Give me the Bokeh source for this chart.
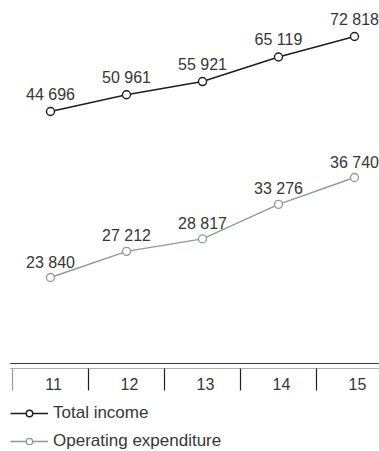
from bokeh.plotting import figure
from bokeh.models import Range1d, Legend, LegendItem
from bokeh.core.properties import value
from bokeh.embed import file_html
from bokeh.resources import INLINE

# Data
years = [11, 12, 13, 14, 15]
year_labels = ["11", "12", "13", "14", "15"]
total_income = [44696, 50961, 55921, 65119, 72818]
operating_expenditure = [23840, 27212, 28817, 33276, 36740]


def fmt(v):
    return f"{v:,}".replace(",", " ")


INCOME_COLOR = "#1e1e1e"
OPEX_COLOR = "#8a9d93"
TEXT_COLOR = "#363636"
FONT_NAME = "Liberation Sans"
FONT = value(FONT_NAME)

p = figure(
    width=379, height=451,
    output_backend="svg", toolbar_location=None,
    x_range=Range1d(10.342, 15.329),
    y_range=Range1d(451, 0),          # layout coordinates, measured from the top
    x_axis_type=None, y_axis_type=None,
    min_border=0, outline_line_color=None,
)
p.grid.visible = False

# each series gets its own vertical scale
p.extra_y_ranges = {
    "income": Range1d(-82790, 86317),
    "opex": Range1d(1394, 59573),
}

# Total income
inc_line = p.line(years, total_income, y_range_name="income",
                  line_color=INCOME_COLOR, line_width=1.5)
inc_pts = p.scatter(years, total_income, y_range_name="income", marker="circle",
                    size=8, fill_color="white", line_color=INCOME_COLOR, line_width=1.4)
p.text(years, total_income, text=[fmt(v) for v in total_income], y_range_name="income",
       text_align="center", text_baseline="bottom", y_offset=-9,
       text_font=FONT, text_font_size="16px", text_color=TEXT_COLOR)

# Operating expenditure
opex_line = p.line(years, operating_expenditure, y_range_name="opex",
                   line_color=OPEX_COLOR, line_width=1.4)
opex_pts = p.scatter(years, operating_expenditure, y_range_name="opex", marker="circle",
                     size=8, fill_color="white", line_color=OPEX_COLOR, line_width=1.3)
p.text(years, operating_expenditure, text=[fmt(v) for v in operating_expenditure],
       y_range_name="opex",
       text_align="center", text_baseline="bottom", y_offset=-7,
       text_font=FONT, text_font_size="16px", text_color=TEXT_COLOR)

# Category axis: double rule, band separators and year labels
left = years[0] - 0.5 - 0.03
right = p.x_range.end
p.segment(x0=[left], x1=[right], y0=[363], y1=[363], line_color="#3a3a3a", line_width=1.2)
p.segment(x0=[left], x1=[right], y0=[368], y1=[368], line_color="#b0b0b0", line_width=1)
bounds = [y - 0.5 for y in years]
p.segment(x0=bounds, x1=bounds, y0=[368] * len(bounds), y1=[390] * len(bounds),
          line_color=["#9a9a9a"] + ["#1e1e1e"] * (len(bounds) - 1), line_width=1.2)
p.text(years, [383] * len(years), text=year_labels, x_offset=3,
       text_align="center", text_baseline="middle",
       text_font=FONT, text_font_size="16px", text_color=TEXT_COLOR)

legend = Legend(
    items=[
        LegendItem(label="Total income", renderers=[inc_line, inc_pts]),
        LegendItem(label="Operating expenditure", renderers=[opex_line, opex_pts]),
    ],
    location=(10, 0),
    glyph_width=38, glyph_height=16, label_height=16,
    spacing=8, padding=0, margin=0, label_standoff=5,
    border_line_color=None, background_fill_alpha=0,
    label_text_font=FONT_NAME, label_text_font_size="17px", label_text_color=TEXT_COLOR,
)
p.add_layout(legend)

open("out.html", "w").write(file_html(p, INLINE))
